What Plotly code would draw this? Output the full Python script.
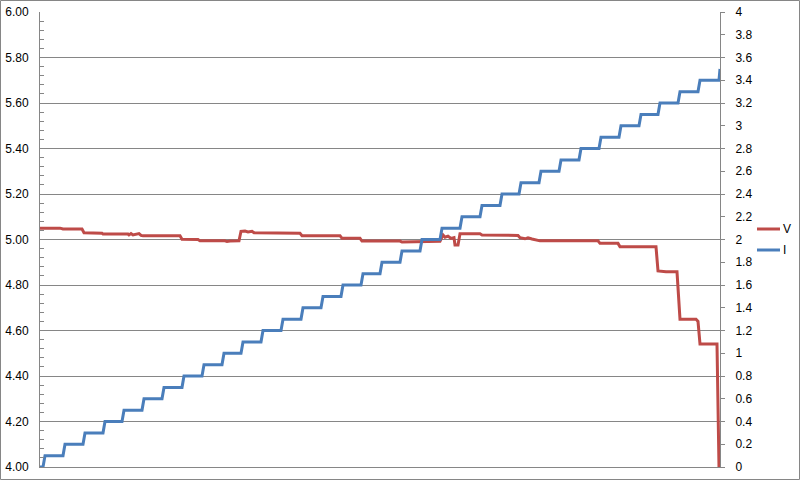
import plotly.graph_objects as go

# ---- data (x in sample units, 0..680) ----
v_x = [0, 20, 23, 42, 44, 62, 63, 88, 89, 91, 93, 97, 99, 101, 103, 140, 142, 158, 160,
       185, 187, 190, 199, 201, 205, 208, 212, 214, 218, 222, 260, 262, 300, 302, 320, 322,
       360, 362, 398, 400, 403, 405, 408, 411, 414, 415, 418, 420, 440, 442, 478, 480, 485,
       488, 492, 498, 500, 558, 560, 578, 580, 616, 618, 626, 637, 640, 656, 658, 660, 677, 679]
v_vals = [5.050, 5.050, 5.046, 5.046, 5.030, 5.028, 5.024, 5.024, 5.020, 5.026, 5.020, 5.022,
          5.026, 5.018, 5.017, 5.016, 5.001, 5.000, 4.994, 4.994, 4.991, 4.993, 4.994, 5.036,
          5.037, 5.033, 5.036, 5.030, 5.030, 5.027, 5.027, 5.017, 5.017, 5.005, 5.005, 4.993,
          4.993, 4.989, 4.990, 4.992, 5.020, 5.010, 5.015, 5.005, 5.008, 4.976, 4.976, 5.025,
          5.025, 5.020, 5.018, 5.008, 5.003, 5.007, 5.002, 4.998, 4.994, 4.994, 4.983, 4.983,
          4.968, 4.968, 4.862, 4.858, 4.858, 4.650, 4.650, 4.640, 4.541, 4.541, 4.000]

i_x = [0, 3, 5, 23, 25, 43, 45, 63, 65, 82, 84, 102, 104, 122, 124, 142, 144, 162, 164,
       182, 184, 201, 203, 221, 223, 241, 243, 261, 263, 281, 283, 301, 303, 321, 323,
       340, 342, 360, 362, 380, 382, 400, 402, 420, 422, 440, 442, 460, 462, 479, 481,
       499, 501, 519, 521, 539, 541, 559, 561, 579, 581, 599, 601, 618, 620, 638, 640,
       658, 660, 679, 680]
i_vals = [0.0, 0.0, 0.1, 0.1, 0.2, 0.2, 0.3, 0.3, 0.4, 0.4, 0.5, 0.5, 0.6, 0.6, 0.7, 0.7,
          0.8, 0.8, 0.9, 0.9, 1.0, 1.0, 1.1, 1.1, 1.2, 1.2, 1.3, 1.3, 1.4, 1.4, 1.5, 1.5,
          1.6, 1.6, 1.7, 1.7, 1.8, 1.8, 1.9, 1.9, 2.0, 2.0, 2.1, 2.1, 2.2, 2.2, 2.3, 2.3,
          2.4, 2.4, 2.5, 2.5, 2.6, 2.6, 2.7, 2.7, 2.8, 2.8, 2.9, 2.9, 3.0, 3.0, 3.1, 3.1,
          3.2, 3.2, 3.3, 3.3, 3.4, 3.4, 3.5]

series_names = ["V", "I"]
RED = "#BE4B48"
BLUE = "#4A7EBB"
GRID = "#868686"
FONT = "Liberation Sans"

fig = go.Figure()
fig.add_trace(go.Scatter(x=v_x, y=v_vals, mode="lines", name=series_names[0],
                         line=dict(color=RED, width=3), yaxis="y", showlegend=False,
                         cliponaxis=False))
fig.add_trace(go.Scatter(x=i_x, y=i_vals, mode="lines", name=series_names[1],
                         line=dict(color=BLUE, width=3), yaxis="y2", showlegend=False,
                         cliponaxis=False))

# plot area: x 40..720, y 12..467 in an 800x480 canvas
L, R, T, B = 40, 80, 12, 13
W, H = 800, 480
pw, ph = W - L - R, H - T - B

def px(xp):
    return (xp - L) / pw

def py(yp):
    return (H - B - yp) / ph

fig.update_layout(
    width=W, height=H,
    margin=dict(l=L, r=R, t=T, b=B, pad=0, autoexpand=False),
    paper_bgcolor="white", plot_bgcolor="white",
    font=dict(family=FONT, size=12, color="#000000"),
    xaxis=dict(range=[0, 680], showgrid=False, zeroline=False, showticklabels=False,
               ticks="", showline=True, linecolor=GRID, linewidth=1, automargin=False),
    yaxis=dict(range=[4, 6], dtick=0.2, tick0=4, tickformat=".2f", showgrid=True,
               gridcolor=GRID, gridwidth=1, zeroline=False, showline=True,
               linecolor=GRID, linewidth=1, ticks="inside", ticklen=4, tickcolor=GRID,
               ticklabelstandoff=8, automargin=False,
               minor=dict(dtick=0.04, tick0=4, ticks="inside", ticklen=4,
                          tickcolor=GRID, showgrid=False)),
    yaxis2=dict(range=[0, 4], dtick=0.2, tick0=0, overlaying="y", side="right",
                showgrid=False, zeroline=False, showline=True, linecolor=GRID,
                linewidth=1, ticks="outside", ticklen=4, tickcolor=GRID,
                ticklabelstandoff=8, automargin=False),
)

# chart-area border
fig.add_shape(type="rect", xref="paper", yref="paper",
              x0=px(0.5), x1=px(799.5), y0=py(479.5), y1=py(0.5),
              line=dict(color=GRID, width=1), fillcolor="rgba(0,0,0,0)", layer="below")

# custom legend
for name, color, yp in [(series_names[0], RED, 229), (series_names[1], BLUE, 250)]:
    fig.add_shape(type="line", xref="paper", yref="paper",
                  x0=px(757), x1=px(780), y0=py(yp), y1=py(yp),
                  line=dict(color=color, width=3))
    fig.add_annotation(x=px(781), y=py(yp), xref="paper", yref="paper",
                       text=name, showarrow=False, xanchor="left", yanchor="middle",
                       font=dict(family=FONT, size=12, color="#000000"))

fig.write_html("out.html", config={"displayModeBar": False},
               post_script="document.body.style.margin='0';document.body.style.overflow='hidden';")
